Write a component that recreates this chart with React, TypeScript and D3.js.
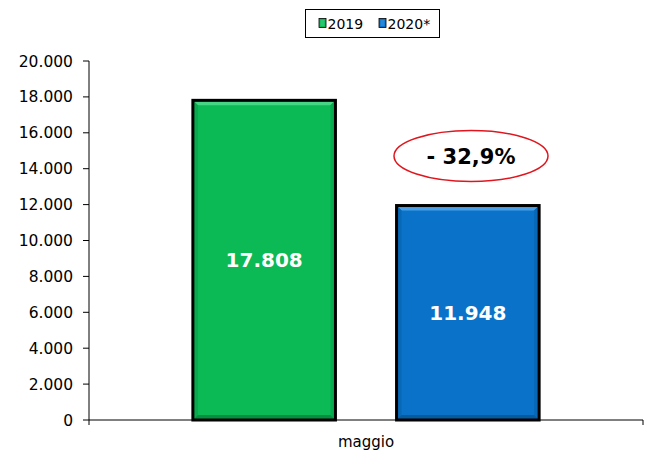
import React from "react";
import * as d3 from "d3";

const categories = ["maggio"];
const series = ["2019", "2020*"];
const values = [17808, 11948];
const valueLabels = ["17.808", "11.948"];
const yTicks = [0, 2000, 4000, 6000, 8000, 10000, 12000, 14000, 16000, 18000, 20000];
const changeLabel = "- 32,9%";

const fills = ["#0BB955", "#0A73C9"];
const lights = ["#45D585", "#4A9FE6"];
const sides = ["#09AA4E", "#0868B8"];
const darks = ["#078F41", "#065A9E"];

const W = 655;
const H = 466;
const left = 89;
const right = 643;
const top = 61;
const bottom = 420;

const fmt = (v: number) => (v === 0 ? "0" : d3.format(",")(v).replace(/,/g, "."));

export default function App() {
  const y = d3.scaleLinear().domain([0, 20000]).range([bottom, top]);
  const x0 = d3.scaleBand<string>().domain(categories).range([left, right]).padding(0);
  const x1 = d3
    .scaleBand<string>()
    .domain(series)
    .range([0, x0.bandwidth()])
    .paddingInner(0.3)
    .paddingOuter(0.51);
  const font = "'DejaVu Sans', Verdana, sans-serif";
  const b = 5;

  return (
    <svg
      width={W}
      height={H}
      style={{ position: "absolute", left: 0, top: 0, background: "#fff" }}
      fontFamily={font}
    >
      {/* legend */}
      <rect x={305.5} y={9.5} width={134} height={28} fill="#fff" stroke="#000" strokeWidth={1} />
      {series.map((s, i) => {
        const lx = i === 0 ? 319 : 379;
        return (
          <g key={s}>
            <rect x={lx} y={18.5} width={7} height={9} fill={fills[i]} stroke="#000" strokeWidth={0.8} />
            <rect x={lx + 1.5} y={20} width={4} height={6} fill={lights[i]} opacity={0.5} />
            <text x={lx + 8.5} y={29} fontSize={14} fill="#000">
              {s}
            </text>
          </g>
        );
      })}

      {/* y axis */}
      <line x1={left} x2={left} y1={top} y2={bottom + 5} stroke="#000" strokeWidth={1} />
      {yTicks.map((t) => (
        <g key={t}>
          <line x1={left - 6} x2={left} y1={y(t)} y2={y(t)} stroke="#000" strokeWidth={1} />
          <text x={73} y={y(t) + 5.5} fontSize={15.5} textAnchor="end" fill="#000">
            {fmt(t)}
          </text>
        </g>
      ))}

      {/* x axis */}
      <line x1={left} x2={right} y1={bottom} y2={bottom} stroke="#000" strokeWidth={1} />
      <line x1={right} x2={right} y1={bottom} y2={bottom + 5} stroke="#000" strokeWidth={1} />
      {categories.map((c) => (
        <text
          key={c}
          x={(x0(c) ?? 0) + x0.bandwidth() / 2}
          y={447}
          fontSize={15}
          textAnchor="middle"
          fill="#000"
        >
          {c}
        </text>
      ))}

      {/* bars */}
      {categories.map((c) =>
        series.map((s, i) => {
          const bx = (x0(c) ?? 0) + (x1(s) ?? 0);
          const bw = x1.bandwidth();
          const by = y(values[i]);
          const bh = bottom - by;
          const x2 = bx + bw;
          const y2 = bottom;
          return (
            <g key={s}>
              <rect x={bx} y={by} width={bw} height={bh} fill={fills[i]} />
              <polygon
                points={`${bx},${by} ${x2},${by} ${x2 - b},${by + b} ${bx + b},${by + b}`}
                fill={lights[i]}
              />
              <polygon
                points={`${bx},${by} ${bx + b},${by + b} ${bx + b},${y2 - b} ${bx},${y2}`}
                fill={sides[i]}
              />
              <polygon
                points={`${x2},${by} ${x2 - b},${by + b} ${x2 - b},${y2 - b} ${x2},${y2}`}
                fill={sides[i]}
              />
              <polygon
                points={`${bx},${y2} ${bx + b},${y2 - b} ${x2 - b},${y2 - b} ${x2},${y2}`}
                fill={darks[i]}
              />
              <rect x={bx} y={by} width={bw} height={bh} fill="none" stroke="#000" strokeWidth={3} />
              <text
                x={bx + bw / 2}
                y={by + bh / 2 + 7}
                fontSize={20}
                fontWeight="bold"
                textAnchor="middle"
                fill="#fff"
              >
                {valueLabels[i]}
              </text>
            </g>
          );
        })
      )}

      {/* change annotation */}
      <ellipse cx={471} cy={156} rx={77} ry={25.5} fill="#fff" stroke="#E0161E" strokeWidth={1.5} />
      <text x={471} y={163.5} fontSize={21} fontWeight="bold" textAnchor="middle" fill="#000">
        {changeLabel}
      </text>
    </svg>
  );
}
